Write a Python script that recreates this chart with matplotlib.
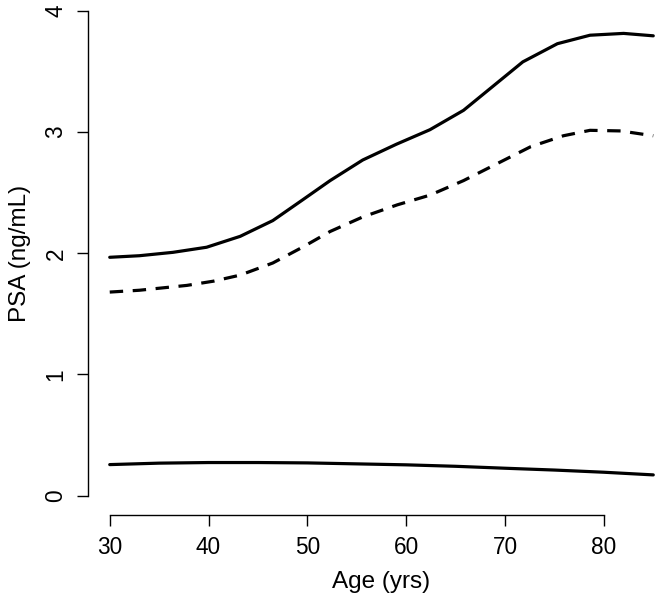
import matplotlib
matplotlib.use("Agg")
import matplotlib.pyplot as plt

age_upper = [30, 33, 36.4, 39.8, 43.2, 46.5, 49.5, 52.3, 55.6, 59.0, 62.4, 65.8, 68.8, 71.8, 75.3, 78.6, 82.0, 85.0]
psa_upper = [1.967, 1.98, 2.008, 2.05, 2.14, 2.27, 2.44, 2.60, 2.77, 2.90, 3.02, 3.18, 3.38, 3.58, 3.73, 3.80, 3.815, 3.795]

age_dashed = [30, 33, 37.8, 40.5, 43.2, 46.5, 49.5, 52.3, 55.6, 59.1, 62.4, 65.8, 69.2, 72.6, 75.9, 78.6, 81.7, 85.0]
psa_dashed = [1.68, 1.695, 1.735, 1.77, 1.82, 1.92, 2.05, 2.18, 2.30, 2.40, 2.48, 2.60, 2.74, 2.88, 2.97, 3.015, 3.01, 2.97]

age_lower = [30, 35, 40, 45, 50, 55, 60, 65, 70, 75, 80, 85]
psa_lower = [0.256, 0.268, 0.273, 0.273, 0.27, 0.262, 0.254, 0.242, 0.226, 0.211, 0.193, 0.171]

x_ticks = [30, 40, 50, 60, 70, 80]
y_ticks = [0, 1, 2, 3, 4]

plt.rcParams['font.family'] = ['Liberation Sans', 'DejaVu Sans']

W, H = 660, 600
fig = plt.figure(figsize=(W / 100, H / 100), dpi=100)
left_px, right_px, bottom_px, top_px = 88, 675, 515, -8.4
ax = fig.add_axes([left_px / W, (H - bottom_px) / H,
                   (right_px - left_px) / W, (bottom_px - top_px) / H])

lw = 2.3
ax.plot(age_upper, psa_upper, color='black', lw=lw, solid_capstyle='round', solid_joinstyle='round')
ax.plot(age_dashed, psa_dashed, color='black', lw=lw, dashes=(4.2, 3.0), dash_capstyle='butt')
ax.plot(age_lower, psa_lower, color='black', lw=lw, solid_capstyle='round')

ax.set_xlim(27.8, 87.2)
ax.set_ylim(-0.16, 4.16)

for s in ['top', 'right']:
    ax.spines[s].set_visible(False)
ax.spines['left'].set_bounds(0, 4)
ax.spines['bottom'].set_bounds(30, 80)
for s in ['left', 'bottom']:
    ax.spines[s].set_linewidth(1.0)

ax.set_xticks(x_ticks)
ax.set_yticks(y_ticks)
ax.set_xticklabels([str(v) for v in x_ticks])
ax.set_yticklabels([str(v) for v in y_ticks], rotation=90, va='center')
ax.tick_params(axis='both', direction='out', length=7.8, width=1.0, labelsize=16.3, pad=7)

ax.set_xlabel('Age (yrs)', fontsize=17.5, labelpad=9)
ax.set_ylabel('PSA (ng/mL)', fontsize=17.5, labelpad=10)

fig.savefig('out.png', dpi=100)
